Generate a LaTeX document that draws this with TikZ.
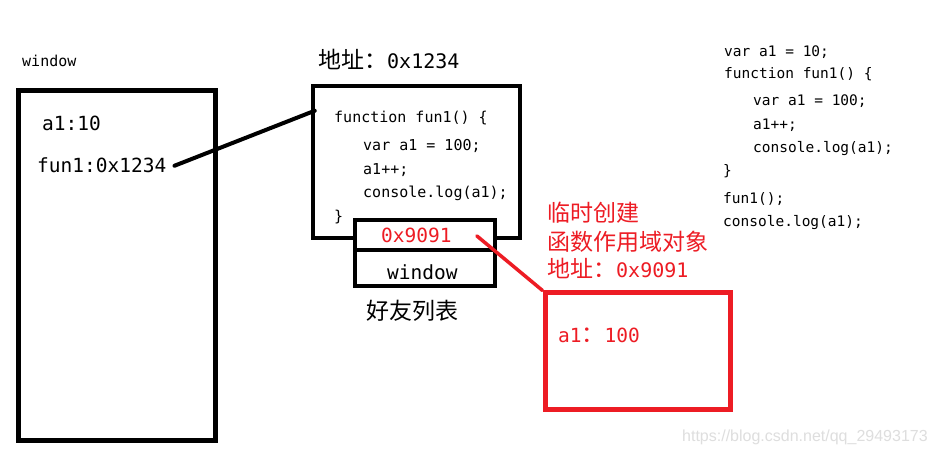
\documentclass[tikz,border=0pt]{standalone}
\usepackage{fontspec}
\setmonofont{DejaVu Sans Mono}
\newfontfamily\cjk{Noto Sans CJK SC}
\newfontfamily\wmfont{Liberation Sans}
\definecolor{pred}{RGB}{237,28,36}
\usetikzlibrary{calc}
\begin{document}
\begin{tikzpicture}[x=1pt,y=-1pt,
  t/.style={anchor=base west, inner sep=0pt, font=\ttfamily\fontsize{19.5}{22}\selectfont},
  code/.style={anchor=base west, inner sep=0pt, font=\ttfamily\fontsize{15}{18}\selectfont},
  rcode/.style={anchor=base west, inner sep=0pt, font=\ttfamily\fontsize{14.5}{17}\selectfont},
  cjkt/.style={anchor=base west, inner sep=0pt, font=\cjk\fontsize{23}{26}\selectfont},
  bbox/.style={draw=black, line width=4.5pt, inner sep=0pt},
  rbox/.style={draw=pred, line width=5pt, inner sep=0pt},
  link/.style={line width=4pt, line cap=round}]
\useasboundingbox (0,0) rectangle (935,454);
\fill[white] (0,0) rectangle (935,454);

% window (global) box
\node[code] (wlabel) at (22,67) {window};
\node[bbox, minimum width=197pt, minimum height=350pt] (winbox) at (117,265.5) {};
\node[t] (a1) at (42,131) {a1:10};
\node[t] (fun1) at (37,173) {fun1:0x1234};

% function box
\node[cjkt] (addr1) at (318,69) {地址：\ttfamily\fontsize{20}{22}\selectfont 0x1234};
\node[bbox, minimum width=207pt, minimum height=152pt] (funcbox) at (416.5,162) {};
\node[code] (c1) at (334,123) {function fun1() \{};
\node[code] (c2) at (363,151) {var a1 = 100;};
\node[code] (c3) at (363,175) {a1++;};
\node[code] (c4) at (363,198) {console.log(a1);};
\node[code] (c5) at (334,222) {\}};

% scope chain boxes
\node[bbox, fill=white, minimum width=140pt, minimum height=30pt] (scopebox) at (425,235) {};
\node[bbox, fill=white, minimum width=140pt, minimum height=36pt] (winref) at (425,268) {};
\node[t, text=pred] (s9091) at (381,243) {0x9091};
\node[t] (swin) at (387,280) {window};
\node[cjkt] (friends) at (366,320) {好友列表};

% connector fun1 -> function box
\draw[link] ([xshift=8pt]fun1.east) -- ([xshift=4pt,yshift=-27pt]funcbox.north west);

% temporary scope object
\node[cjkt, text=pred] (r1) at (547,222) {临时创建};
\node[cjkt, text=pred] (r2) at (547,251) {函数作用域对象};
\node[cjkt, text=pred] (r3) at (547,278) {地址：\ttfamily\fontsize{20}{22}\selectfont 0x9091};
\node[rbox, minimum width=185pt, minimum height=117pt] (redbox) at (637.5,351.5) {};
\node[t, text=pred] (ra1) at (558,343) {a1{\cjk\fontsize{23}{26}\selectfont ：}100};
\draw[link, draw=pred, line width=3.5pt] ([xshift=25pt]s9091.east) -- (redbox.north west);

% source code
\node[rcode] (k1) at (724,57) {var a1 = 10;};
\node[rcode] (k2) at (724,79) {function fun1() \{};
\node[rcode] (k3) at (753,106) {var a1 = 100;};
\node[rcode] (k4) at (753,130) {a1++;};
\node[rcode] (k5) at (753,153) {console.log(a1);};
\node[rcode] (k6) at (723,176) {\}};
\node[rcode] (k7) at (723,204) {fun1();};
\node[rcode] (k8) at (723,227) {console.log(a1);};

% watermark
\node[anchor=base west, inner sep=0pt, text=black!13, font=\wmfont\fontsize{16}{18}\selectfont] (wm) at (682,441) {https://blog.csdn.net/qq\_29493173};
\end{tikzpicture}
\end{document}
